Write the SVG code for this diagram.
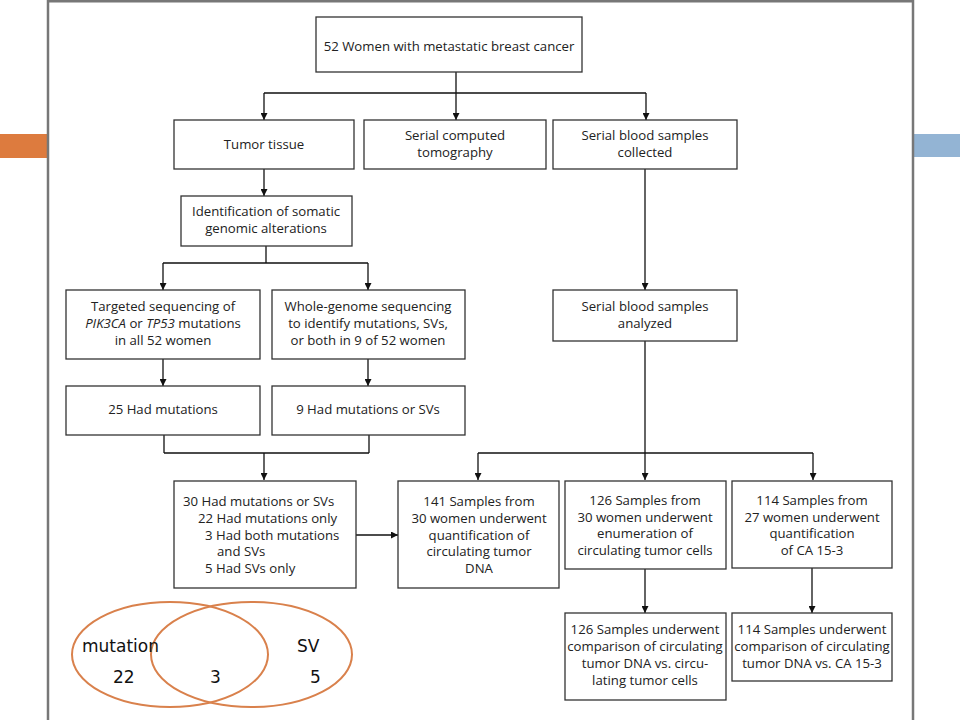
<svg xmlns="http://www.w3.org/2000/svg" width="960" height="720" viewBox="0 0 960 720">
<defs>
<marker id="ah" viewBox="0 0 10 10" refX="10" refY="5" markerUnits="userSpaceOnUse" markerWidth="10" markerHeight="7" orient="auto">
<path d="M0,0 L10,5 L0,10 z" fill="#111"/>
</marker>
<style>
.box{fill:#fff;stroke:#333;stroke-width:1.3}
.t{font-family:"Open Sans","Noto Sans",sans-serif;font-size:13.2px;fill:#222;text-anchor:middle}
.l{font-family:"Open Sans","Noto Sans",sans-serif;font-size:13.2px;fill:#222}
.c{fill:none;stroke:#111;stroke-width:1.3}
.a{fill:none;stroke:#111;stroke-width:1.3;marker-end:url(#ah)}
.v{fill:none;stroke:#D9814C;stroke-width:2}
.vt{font-family:"DejaVu Sans",sans-serif;font-size:17px;fill:#111}
</style>
</defs>
<rect width="960" height="720" fill="#fff"/>
<rect x="0" y="134" width="48" height="24" fill="#DD7B3E"/>
<rect x="913" y="134" width="47" height="23" fill="#93B4D4"/>
<path d="M48,720 V1.2 H913 V720" fill="none" stroke="#777" stroke-width="2.5"/>

<g id="connectors">
<path class="c" d="M456,72 V93 M264,93 H646"/>
<path class="a" d="M264,93 V120"/>
<path class="a" d="M456,93 V120"/>
<path class="a" d="M646,93 V120"/>
<path class="a" d="M264,169 V196"/>
<path class="c" d="M266,246 V263 M163,263 H368"/>
<path class="a" d="M163,263 V290"/>
<path class="a" d="M368,263 V290"/>
<path class="a" d="M163,359 V386"/>
<path class="a" d="M368,359 V386"/>
<path class="c" d="M164,435 V453 M369,435 V453 M164,453 H369"/>
<path class="a" d="M264,453 V480"/>
<path class="a" d="M356,535 H398"/>
<path class="a" d="M645,169 V290"/>
<path class="a" d="M645,341 V480"/>
<path class="c" d="M478,453 H813"/>
<path class="a" d="M478,453 V480"/>
<path class="a" d="M813,453 V480"/>
<path class="a" d="M645,568 V613"/>
<path class="a" d="M812,568 V613"/>
</g>

<g id="n-top"><rect class="box" x="316" y="17" width="266" height="55"/>
<text class="t" x="449" y="51">52 Women with metastatic breast cancer</text></g>

<g id="n-tumor"><rect class="box" x="174" y="120" width="180" height="49"/>
<text class="t" x="264" y="149">Tumor tissue</text></g>

<g id="n-ct"><rect class="box" x="364" y="120" width="182" height="49"/>
<text class="t" x="455" y="140">Serial computed</text>
<text class="t" x="455" y="157">tomography</text></g>

<g id="n-blood"><rect class="box" x="553" y="120" width="184" height="49"/>
<text class="t" x="645" y="140">Serial blood samples</text>
<text class="t" x="645" y="157">collected</text></g>

<g id="n-ident"><rect class="box" x="181" y="196" width="171" height="50"/>
<text class="t" x="266" y="216">Identification of somatic</text>
<text class="t" x="266" y="233">genomic alterations</text></g>

<g id="n-targeted"><rect class="box" x="66" y="290" width="194" height="69"/>
<text class="t" x="163" y="311">Targeted sequencing of</text>
<text class="t" x="163" y="328"><tspan font-style="italic">PIK3CA</tspan> or <tspan font-style="italic">TP53</tspan> mutations</text>
<text class="t" x="163" y="345">in all 52 women</text></g>

<g id="n-wgs"><rect class="box" x="272" y="290" width="193" height="69"/>
<text class="t" x="368" y="311">Whole-genome sequencing</text>
<text class="t" x="368" y="328">to identify mutations, SVs,</text>
<text class="t" x="368" y="345">or both in 9 of 52 women</text></g>

<g id="n-analyzed"><rect class="box" x="553" y="290" width="184" height="51"/>
<text class="t" x="645" y="311">Serial blood samples</text>
<text class="t" x="645" y="328">analyzed</text></g>

<g id="n-25"><rect class="box" x="66" y="386" width="194" height="49"/>
<text class="t" x="163" y="414">25 Had mutations</text></g>

<g id="n-9"><rect class="box" x="272" y="386" width="193" height="49"/>
<text class="t" x="368" y="414">9 Had mutations or SVs</text></g>

<g id="n-30"><rect class="box" x="174" y="481" width="182" height="107"/>
<text class="l" x="183" y="506">30 Had mutations or SVs</text>
<text class="l" x="198" y="523">22 Had mutations only</text>
<text class="l" x="205" y="540">3 Had both mutations</text>
<text class="l" x="217" y="556">and SVs</text>
<text class="l" x="205" y="573">5 Had SVs only</text></g>

<g id="n-141"><rect class="box" x="398" y="481" width="161" height="107"/>
<text class="t" x="479" y="506">141 Samples from</text>
<text class="t" x="479" y="523">30 women underwent</text>
<text class="t" x="479" y="540">quantification of</text>
<text class="t" x="479" y="556">circulating tumor</text>
<text class="t" x="479" y="573">DNA</text></g>

<g id="n-126"><rect class="box" x="565" y="481" width="161" height="88"/>
<text class="t" x="645" y="505">126 Samples from</text>
<text class="t" x="645" y="522">30 women underwent</text>
<text class="t" x="645" y="538">enumeration of</text>
<text class="t" x="645" y="555">circulating tumor cells</text></g>

<g id="n-114"><rect class="box" x="732" y="481" width="160" height="87"/>
<text class="t" x="812" y="505">114 Samples from</text>
<text class="t" x="812" y="522">27 women underwent</text>
<text class="t" x="812" y="538">quantification</text>
<text class="t" x="812" y="555">of CA 15-3</text></g>

<g id="n-126cmp"><rect class="box" x="565" y="613" width="161" height="87"/>
<text class="t" x="645" y="634">126 Samples underwent</text>
<text class="t" x="645" y="651">comparison of circulating</text>
<text class="t" x="645" y="668">tumor DNA vs. circu-</text>
<text class="t" x="645" y="685">lating tumor cells</text></g>

<g id="n-114cmp"><rect class="box" x="732" y="613" width="160" height="68"/>
<text class="t" x="812" y="634">114 Samples underwent</text>
<text class="t" x="812" y="651">comparison of circulating</text>
<text class="t" x="812" y="668">tumor DNA vs. CA 15-3</text></g>

<g id="venn">
<ellipse class="v" cx="170" cy="654.5" rx="98" ry="52.5"/>
<ellipse class="v" cx="251.5" cy="654.5" rx="100.5" ry="52.5"/>
<text class="vt" x="82" y="652">mutation</text>
<text class="vt" x="297" y="652">SV</text>
<text class="vt" x="113" y="683">22</text>
<text class="vt" x="210" y="683">3</text>
<text class="vt" x="310" y="683">5</text>
</g>
</svg>
